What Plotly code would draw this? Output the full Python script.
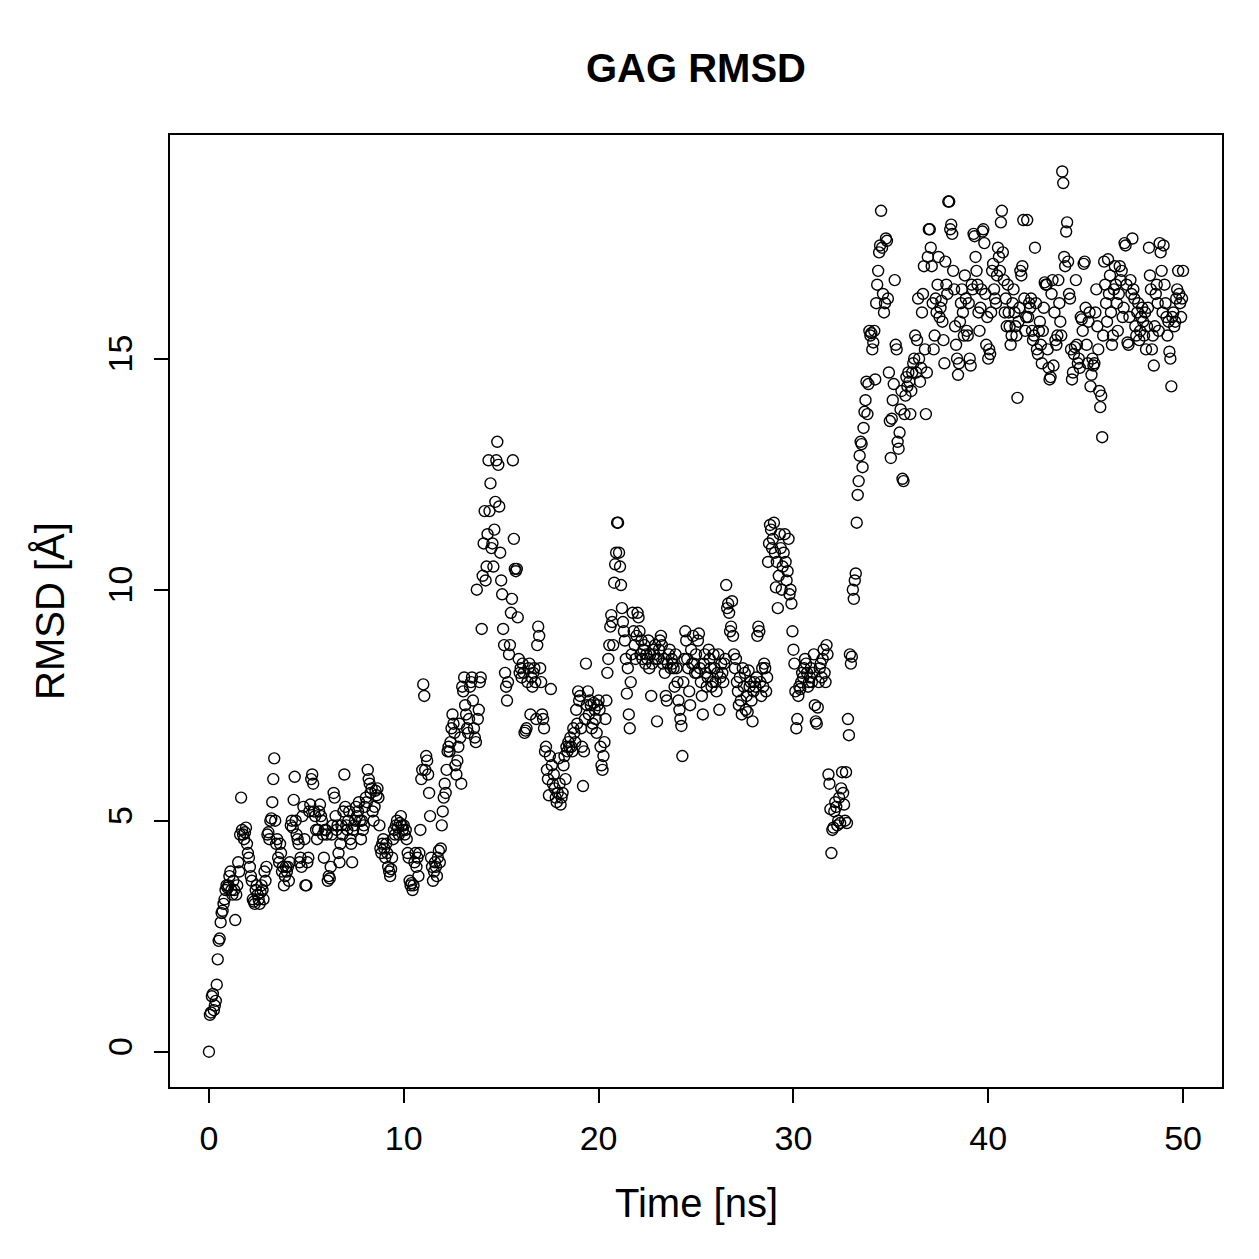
import numpy as np
import plotly.graph_objects as go

# RMSD values (Å), one value every 0.05 ns
rmsd_00_10 = [
    0.0, 0.8, 0.85, 1.2, 1.25, 0.9, 1.0, 1.1, 1.45, 2.0, 2.4, 2.45, 2.8, 3.0, 3.05, 3.2, 3.3, 3.5, 3.6, 3.55,
    3.6, 3.8, 3.9, 3.5, 3.4, 3.7, 3.5, 2.85, 3.4, 3.6, 4.1, 3.9, 4.7, 5.5, 4.8, 4.7, 4.6, 4.75, 4.85, 4.5,
    4.3, 4.2, 4.0, 3.8, 3.7, 3.3, 3.25, 3.2, 3.5, 3.6, 3.4, 3.3, 3.2, 3.45, 3.6, 3.5, 3.3, 3.9, 3.7, 4.0,
    4.7, 4.75, 4.6, 5.0, 5.05, 5.4, 5.9, 6.35, 5.0, 4.5, 4.6, 4.2, 4.1, 4.5, 4.3, 3.9, 4.0, 3.6, 3.8, 4.0,
    3.9, 4.0, 3.7, 4.1, 4.9, 5.0, 4.85, 5.45, 5.95, 5.0, 4.7, 4.6, 4.5, 4.1, 4.2, 4.0, 5.1, 5.3, 4.6, 3.6,
    3.6, 4.1, 4.2, 5.2, 5.35, 5.9, 6.0, 5.8, 5.2, 5.1, 4.8, 4.6, 4.8, 5.2, 5.35, 5.1, 5.0, 4.7, 4.2, 4.8,
    4.8, 4.7, 3.7, 3.8, 3.75, 4.0, 4.7, 4.9, 5.6, 5.5, 5.1, 4.8, 4.9, 4.3, 4.1, 4.5, 4.9, 4.7, 5.2, 6.0,
    5.3, 4.9, 4.8, 5.0, 5.2, 4.6, 4.5, 4.1, 4.8, 4.9, 5.0, 5.3, 5.1, 5.2, 5.4, 5.0, 4.6, 5.0, 4.8, 4.9,
    5.3, 5.5, 5.4, 6.1, 5.9, 5.8, 5.6, 5.7, 5.2, 5.0, 5.3, 5.65, 5.55, 5.7, 5.5, 4.9, 4.4, 4.3, 4.5, 4.6,
    4.4, 4.2, 4.5, 4.3, 4.0, 3.9, 3.8, 3.95, 4.2, 4.6, 4.8, 4.7, 4.9, 5.0, 4.85, 4.7, 4.95, 5.1, 4.9, 4.8,
]
rmsd_10_20 = [
    4.9, 4.7, 4.8, 4.6, 4.3, 4.2, 3.7, 3.6, 3.65, 3.5, 3.6, 4.1, 4.3, 4.0, 4.2, 3.8, 4.3, 4.8, 5.9, 6.1,
    7.95, 7.7, 6.1, 6.4, 6.3, 6.0, 5.6, 5.1, 4.2, 4.0, 3.7, 3.9, 4.1, 4.0, 3.8, 4.2, 4.35, 4.1, 4.4, 4.9,
    5.2, 5.5, 5.8, 5.6, 6.1, 6.5, 6.6, 6.5, 6.7, 7.0, 7.3, 7.1, 6.9, 6.2, 6.0, 6.3, 6.6, 7.1, 6.8, 5.8,
    7.9, 7.8, 8.1, 7.5, 7.3, 7.0, 6.9, 7.2, 7.9, 8.0, 8.1, 7.6, 7.0, 6.8, 6.7, 10.0, 7.2, 7.4, 8.0, 8.1,
    9.15, 10.3, 11.0, 11.7, 10.2, 10.5, 11.2, 12.8, 11.7, 12.3, 10.9, 11.0, 10.5, 11.3, 11.9, 12.8, 13.2, 12.7, 11.8, 10.8,
    10.2, 9.9, 9.15, 8.8, 8.2, 7.9, 7.6, 8.0, 8.6, 8.8, 9.5, 9.8, 12.8, 11.1, 10.45, 10.4, 10.45, 9.4, 8.5, 8.2,
    8.3, 8.1, 8.4, 8.2, 6.9, 6.95, 7.0, 8.0, 8.3, 8.4, 7.3, 8.1, 7.9, 8.2, 8.3, 8.0, 7.2, 8.8, 9.2, 9.0,
    8.3, 8.0, 7.3, 7.2, 7.0, 6.5, 6.6, 6.1, 5.9, 5.55, 6.4, 7.85, 6.2, 5.8, 6.0, 5.7, 5.5, 5.4, 5.6, 6.35,
    5.8, 5.35, 5.5, 5.6, 6.2, 6.4, 5.9, 6.6, 6.5, 6.7, 6.6, 6.8, 6.6, 6.5, 7.0, 6.9, 6.7, 7.4, 7.1, 7.8,
    7.6, 7.7, 7.0, 6.6, 5.75, 6.5, 7.2, 8.4, 7.5, 7.8, 7.3, 7.6, 7.5, 7.0, 7.1, 7.55, 7.4, 7.2, 6.9, 7.5,
]
rmsd_20_30 = [
    7.6, 7.4, 6.6, 6.2, 6.1, 6.4, 6.7, 7.2, 7.6, 8.2, 8.5, 8.8, 9.2, 9.45, 9.3, 8.8, 10.15, 10.55, 10.8, 11.45,
    11.45, 10.8, 10.5, 10.1, 9.6, 9.3, 9.1, 8.9, 8.5, 7.75, 8.3, 7.3, 7.0, 8.0, 8.6, 9.5, 9.1, 8.8, 8.5, 9.0,
    9.5, 9.4, 9.1, 8.6, 8.9, 8.5, 8.7, 8.8, 8.4, 8.6, 8.5, 8.9, 8.3, 8.6, 7.7, 8.4, 8.7, 8.6, 8.8, 8.5,
    7.15, 8.5, 8.7, 8.9, 9.0, 8.8, 8.4, 8.5, 8.2, 7.7, 7.6, 8.4, 8.6, 8.7, 8.3, 8.5, 8.4, 8.3, 7.9, 8.6,
    8.3, 8.0, 7.6, 7.4, 7.2, 7.05, 6.4, 8.0, 8.5, 9.1, 8.9, 8.5, 8.3, 7.8, 7.5, 8.7, 8.4, 9.0, 8.4, 8.2,
    8.6, 8.2, 8.9, 9.05, 8.3, 8.0, 7.7, 7.3, 8.4, 8.6, 8.2, 7.9, 8.1, 8.7, 8.5, 8.3, 7.9, 8.0, 8.6, 8.3,
    8.0, 7.8, 8.2, 8.6, 7.4, 8.1, 8.4, 8.2, 8.0, 8.4, 8.5, 10.1, 9.6, 9.7, 9.5, 9.1, 9.2, 9.75, 9.0, 8.6,
    8.3, 8.5, 8.0, 7.8, 7.5, 8.1, 7.6, 7.3, 8.3, 7.9, 8.2, 7.4, 7.7, 7.35, 8.25, 7.9, 8.0, 7.6, 7.15, 7.8,
    8.0, 7.9, 8.1, 9.0, 9.2, 9.1, 8.0, 7.7, 8.3, 7.9, 8.4, 8.3, 7.8, 8.1, 10.6, 11.0, 11.4, 11.3, 10.9, 11.1,
    11.45, 10.8, 10.05, 10.6, 9.6, 10.3, 11.2, 10.9, 10.0, 10.5, 10.8, 11.2, 10.6, 10.2, 10.4, 11.1, 9.9, 10.0, 9.7, 9.1,
]
rmsd_30_40 = [
    8.7, 8.4, 7.8, 7.0, 7.2, 7.7, 7.9, 7.85, 8.0, 8.2, 8.1, 8.3, 8.5, 8.4, 8.2, 7.9, 8.0, 8.1, 8.3, 8.0,
    8.2, 8.6, 7.5, 7.15, 7.1, 7.45, 8.0, 8.3, 8.4, 8.1, 8.5, 8.7, 8.2, 8.0, 8.8, 8.6, 6.0, 5.8, 5.25, 4.3,
    4.8, 4.85, 5.2, 5.4, 5.3, 4.9, 5.0, 5.5, 4.95, 5.7, 6.05, 5.6, 5.35, 5.0, 6.05, 4.95, 7.2, 6.85, 8.6, 8.4,
    8.55, 10.0, 9.8, 10.2, 10.35, 11.45, 12.05, 12.35, 12.9, 13.2, 13.15, 12.65, 13.5, 13.85, 14.1, 14.5, 13.8, 14.45, 15.6, 15.5,
    15.55, 15.2, 15.35, 15.6, 14.55, 16.2, 16.6, 16.9, 17.3, 17.45, 18.2, 17.4, 16.4, 16.0, 16.2, 17.6, 17.55, 16.3, 14.7, 13.65,
    12.85, 13.7, 14.1, 14.45, 16.7, 15.3, 15.2, 13.2, 13.05, 13.4, 13.9, 14.3, 12.4, 12.35, 13.8, 14.2, 14.6, 14.4, 14.7, 14.5,
    13.8, 14.3, 14.7, 14.9, 15.0, 15.5, 14.7, 15.4, 16.3, 15.0, 14.5, 14.8, 16.0, 16.4, 17.0, 15.2, 13.8, 14.7, 17.2, 17.8,
    17.8, 17.4, 17.0, 16.2, 15.2, 15.5, 16.3, 16.0, 16.6, 17.2, 15.9, 16.1, 16.25, 15.8, 15.4, 14.9, 17.1, 16.6, 16.4, 18.4,
    18.4, 17.8, 17.9, 17.7, 16.9, 16.5, 15.7, 15.3, 15.0, 14.65, 14.9, 15.8, 16.2, 16.5, 16.0, 15.5, 16.8, 16.3, 15.6, 15.5,
    16.2, 15.0, 14.85, 16.6, 16.5, 17.7, 17.65, 17.2, 16.9, 16.6, 16.0, 15.6, 16.1, 16.5, 17.75, 17.8, 17.5, 16.4, 15.3, 15.9,
]
rmsd_40_50 = [
    15.0, 15.2, 15.1, 16.0, 16.9, 17.05, 16.5, 16.3, 16.2, 16.8, 17.4, 17.2, 16.9, 17.95, 18.2, 17.3, 16.7, 16.0, 16.3, 15.7,
    16.6, 16.0, 15.7, 15.3, 15.5, 16.2, 16.5, 16.0, 15.7, 15.5, 14.15, 15.8, 16.1, 16.9, 16.8, 17.0, 18.0, 16.3, 15.6, 15.9,
    18.0, 15.9, 16.2, 16.1, 16.3, 15.6, 15.4, 15.5, 17.4, 16.2, 15.2, 15.1, 15.6, 15.8, 15.3, 14.9, 15.6, 16.1, 16.65, 16.6,
    16.6, 15.2, 14.8, 14.55, 14.6, 16.4, 16.7, 14.85, 16.0, 15.4, 15.3, 15.5, 16.7, 16.2, 15.8, 15.5, 19.05, 18.8, 17.2, 17.0,
    17.75, 17.95, 17.1, 16.4, 16.3, 15.2, 14.55, 14.7, 15.1, 15.25, 16.7, 15.3, 14.9, 15.0, 14.8, 15.9, 15.85, 15.6, 17.05, 17.1,
    16.1, 15.3, 14.9, 15.8, 16.0, 14.4, 14.65, 15.0, 14.85, 14.9, 16.0, 16.5, 15.7, 15.2, 14.3, 13.95, 14.2, 13.3, 15.5, 17.1,
    16.6, 16.2, 15.8, 17.15, 16.4, 16.8, 16.0, 15.3, 15.5, 16.5, 17.0, 16.6, 16.2, 15.6, 16.4, 17.0, 16.7, 16.9, 15.9, 16.1,
    17.5, 17.45, 16.6, 15.35, 15.3, 15.9, 16.7, 16.4, 17.6, 16.5, 16.3, 15.7, 15.5, 16.0, 16.2, 15.4, 15.6, 15.9, 16.1, 15.8,
    15.5, 16.0, 15.2, 15.7, 16.1, 17.4, 16.8, 16.5, 15.2, 15.5, 14.85, 15.7, 16.4, 16.6, 16.2, 15.6, 17.5, 17.3, 16.9, 16.0,
    17.45, 16.6, 16.2, 15.9, 15.5, 15.8, 15.15, 15.0, 14.4, 15.9, 16.0, 15.7, 15.8, 16.3, 16.5, 16.9, 16.4, 16.2, 15.9, 16.3,
    16.9,
]

rmsd = rmsd_00_10 + rmsd_10_20 + rmsd_20_30 + rmsd_30_40 + rmsd_40_50
time_step_ns = 0.05
time_ns = np.round(np.arange(len(rmsd)) * time_step_ns, 2)

x_ticks = [0, 10, 20, 30, 40, 50]
y_ticks = [0, 5, 10, 15]
title_text = "GAG RMSD"
x_label = "Time [ns]"
y_label = "RMSD [Å]"

FONT = "Liberation Sans, Arial, Helvetica, sans-serif"

fig = go.Figure()
fig.add_trace(go.Scatter(
    x=time_ns, y=rmsd, mode="markers",
    marker=dict(symbol="circle-open", size=11, color="black", line=dict(width=1.4, color="black")),
    showlegend=False, hoverinfo="x+y",
))

fig.update_layout(
    width=1259, height=1259,
    margin=dict(l=170, r=37, t=135, b=172),
    paper_bgcolor="white", plot_bgcolor="white",
    font=dict(family=FONT, color="black", size=34),
    xaxis=dict(range=[-2, 52], tickvals=x_ticks, ticks="outside", ticklen=14, tickwidth=2,
               tickcolor="black", showline=True, linecolor="black", linewidth=2, mirror=True,
               showgrid=False, zeroline=False, ticklabelstandoff=6,
               tickfont=dict(size=34, family=FONT)),
    yaxis=dict(range=[-0.763, 19.84], tickvals=y_ticks, ticks="outside", ticklen=14, tickwidth=2,
               tickcolor="black", showline=True, linecolor="black", linewidth=2, mirror=True,
               showgrid=False, zeroline=False, tickangle=-90, ticklabelstandoff=8,
               tickfont=dict(size=34, family=FONT)),
    annotations=[
        dict(text="<b>" + title_text + "</b>", xref="paper", yref="paper", x=0.5, y=1, yshift=67,
             xanchor="center", yanchor="middle", showarrow=False, font=dict(size=40, family=FONT)),
        dict(text=x_label, xref="paper", yref="paper", x=0.5, y=0, yshift=-116,
             xanchor="center", yanchor="middle", showarrow=False, font=dict(size=40, family=FONT)),
        dict(text=y_label, xref="paper", yref="paper", x=0, y=0.5, xshift=-120, textangle=-90,
             xanchor="center", yanchor="middle", showarrow=False, font=dict(size=40, family=FONT)),
    ],
)

fig.write_html("out.html")
